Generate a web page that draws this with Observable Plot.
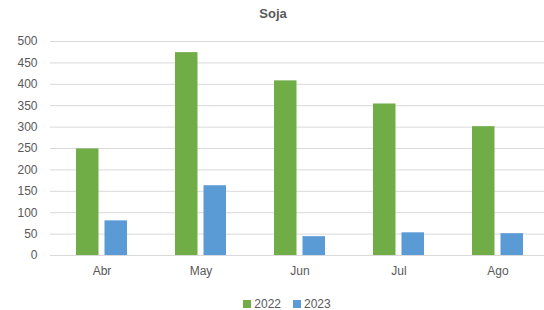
<!DOCTYPE html>
<html>
<head>
<meta charset="utf-8">
<script src="https://cdn.jsdelivr.net/npm/d3@7"></script>
<script src="https://cdn.jsdelivr.net/npm/@observablehq/plot@0.6"></script>
<style>
  body { margin: 0; background: #fff; font-family: "Liberation Sans", Arial, sans-serif; }
  #wrap { width: 544px; height: 310px; position: relative; overflow: hidden; }
  #title { height: 26px; line-height: 27px; text-align: center; font-size: 13px; font-weight: bold; color: #595959; padding-left: 2px; }
  #legend { height: 20px; display: flex; justify-content: center; align-items: center; gap: 12px; font-size: 12px; color: #595959; padding-left: 30px; margin-top: 4px; }
  .item { display: flex; align-items: center; gap: 3px; }
  .sw { width: 8px; height: 8px; display: inline-block; }
</style>
</head>
<body>
<div id="wrap">
  <div id="title">Soja</div>
  <div id="chart"></div>
  <div id="legend"></div>
</div>
<script>
const months = ["Abr", "May", "Jun", "Jul", "Ago"];
const series = ["2022", "2023"];
const values2022 = [249, 474, 408, 354, 301];
const values2023 = [81, 163, 44, 53, 51];
const yTicks = [0, 50, 100, 150, 200, 250, 300, 350, 400, 450, 500];
const colors = ["#70AD47", "#5B9BD5"];

const data = [];
months.forEach((m, i) => {
  data.push({ month: m, year: series[0], value: values2022[i] });
  data.push({ month: m, year: series[1], value: values2023[i] });
});

const chart = Plot.plot({
  width: 544,
  height: 264,
  marginLeft: 50,
  marginRight: 0,
  marginTop: 15,
  marginBottom: 35,
  style: { fontFamily: "Liberation Sans, Arial, sans-serif", fontSize: "12px", color: "#595959", background: "#fff" },
  x: { domain: months, range: [50, 548], paddingInner: 0.488, paddingOuter: 0.244 },
  y: { domain: [0, 500] },
  color: { domain: series, range: colors },
  marks: [
    Plot.ruleY(yTicks, { stroke: "#d9d9d9", strokeWidth: 1 }),
    Plot.barY(data.filter(d => d.year === series[0]), { x: "month", y: "value", fill: "year", insetRight: 28.5 }),
    Plot.barY(data.filter(d => d.year === series[1]), { x: "month", y: "value", fill: "year", insetLeft: 28.5 }),
    Plot.axisY({ ticks: yTicks, tickSize: 0, tickPadding: 13, label: null, fill: "#595959" }),
    Plot.axisX({ tickSize: 0, tickPadding: 11, label: null, fill: "#595959" })
  ]
});
document.getElementById("chart").appendChild(chart);

const legend = document.getElementById("legend");
series.forEach((s, i) => {
  const it = document.createElement("span");
  it.className = "item";
  const sw = document.createElement("span");
  sw.className = "sw";
  sw.style.background = colors[i];
  it.appendChild(sw);
  const t = document.createElement("span");
  t.textContent = s;
  it.appendChild(t);
  legend.appendChild(it);
});
</script>
</body>
</html>
